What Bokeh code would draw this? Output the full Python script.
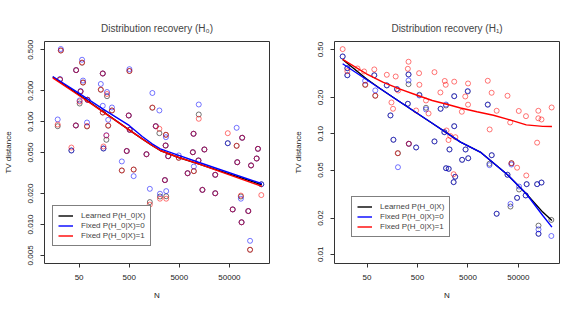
from bokeh.plotting import figure
from bokeh.layouts import row
from bokeh.models import Range1d, FixedTicker, PrintfTickFormatter, Legend, LegendItem
from bokeh.embed import file_html
from bokeh.resources import INLINE

FONT = "Liberation Sans"

# ---------------- H0 panel data ----------------
n_h0 = [21.6, 18.7, 20.8, 57.3, 43.6, 53.5, 51.2, 43.1, 71.9, 59.9,
        35.1, 73.5, 135.6, 148.4, 148.4, 180.4, 190.4, 226.2, 175, 153.2,
        489, 511.4, 504.5, 446.4, 355.9, 613.2, 1105, 1450, 1692, 2000,
        2700, 2664, 9605, 12210, 9305, 15812, 46300, 69620, 89730, 185300,
        174700, 1290, 2057, 2737, 2579, 2996, 4866, 7317, 9736, 12045,
        14440, 26030, 26030, 58070, 84590, 87320, 71530, 118850, 128960, 134940,
        216200]
tv_h0_learned = [0.492, 0.0903, 0.257, 0.374, 0.317, 0.1965, 0.150, 0.0918, 0.0897, 0.240,
                 0.0524, 0.1632, 0.204, 0.294, 0.1227, 0.1768, 0.0912, 0.1284, 0.0666, 0.0548,
                 0.1148, 0.0833, 0.311, 0.0518, 0.0335, 0.0342, 0.0482, 0.1364, 0.0903, 0.0772,
                 0.0745, 0.0586, 0.0762, 0.1174, 0.0504, 0.0536, 0.0617, 0.0582, 0.0697, 0.0544,
                 0.0438, 0.0165, 0.0187, 0.0188, 0.0270, 0.0461, 0.0445, 0.0315, 0.0330, 0.0419,
                 0.0217, 0.0304, 0.0201, 0.0140, 0.0187, 0.0105, 0.0403, 0.0135, 0.00567, 0.0375,
                 0.0246]
tv_h0_fixed0 = [0.509, 0.105, 0.260, 0.400, 0.317, 0.1987, 0.1606, 0.0918, 0.0981, 0.251,
                0.0524, 0.1632, 0.2325, 0.294, 0.1426, 0.1943, 0.1042, 0.1373, 0.0738, 0.0548,
                0.1148, 0.0833, 0.324, 0.0518, 0.0410, 0.0295, 0.0482, 0.190, 0.0903, 0.1284,
                0.0706, 0.0586, 0.0762, 0.1468, 0.0504, 0.0536, 0.0617, 0.0871, 0.0697, 0.0544,
                0.0438, 0.0222, 0.0199, 0.0211, 0.0270, 0.0461, 0.0469, 0.0315, 0.0366, 0.0419,
                0.0217, 0.0304, 0.0201, 0.0140, 0.0178, 0.0105, 0.0403, 0.0135, 0.00693, 0.0375,
                0.0246]
tv_h0_fixed1 = [0.492, 0.0938, 0.257, 0.376, 0.317, 0.1965, 0.157, 0.0918, 0.0907, 0.240,
                0.0560, 0.1632, 0.2055, 0.294, 0.1227, 0.1858, 0.0918, 0.1284, 0.0733, 0.0573,
                0.1148, 0.0833, 0.311, 0.0518, 0.0335, 0.0342, 0.0482, 0.1373, 0.0903, 0.0852,
                0.0745, 0.0586, 0.0762, 0.1066, 0.0504, 0.0536, 0.0772, 0.0582, 0.0697, 0.0544,
                0.0438, 0.0156, 0.0178, 0.0178, 0.0270, 0.0461, 0.0445, 0.0315, 0.0330, 0.0419,
                0.0217, 0.0304, 0.0201, 0.0140, 0.0191, 0.0105, 0.0403, 0.0135, 0.00567, 0.0375,
                0.0193]

fit_n_h0 = [14.9, 44.3, 148, 498, 910, 1431, 2085, 4866, 12045, 222200]
fit_h0_learned = [0.272, 0.190, 0.126, 0.0833, 0.068, 0.0586, 0.0524, 0.0448, 0.0389, 0.0243]
fit_h0_fixed0 = [0.275, 0.1956, 0.133, 0.0918, 0.0717, 0.0609, 0.0544, 0.0469, 0.0403, 0.0249]
fit_h0_fixed1 = [0.267, 0.1866, 0.125, 0.0833, 0.0681, 0.0586, 0.0524, 0.0448, 0.0389, 0.0235]

# ---------------- H1 panel data ----------------
n_h1 = [16.4, 20.3, 20.3, 45.7, 69.5, 72.7, 123.1, 145.5, 195.9, 166.5,
        204.9, 331.8, 331.8, 321.5, 336.3, 544.8, 469.5, 736.8, 1085, 1435,
        1839, 1703, 2153, 2673, 2673, 3832, 4487, 4956, 5068, 12370,
        14810, 1839, 2077, 2796, 2602, 13350, 30460, 36480, 73030, 117700,
        143600, 47170, 51620, 69810, 18560, 34860, 125400, 125400, 225300]
tv_h1_learned = [0.438, 0.350, 0.306, 0.255, 0.306, 0.207, 0.252, 0.142, 0.2345, 0.0892,
                 0.0690, 0.3105, 0.258, 0.1774, 0.0826, 0.2108, 0.0770, 0.1643, 0.0864, 0.1612,
                 0.1717, 0.1031, 0.0741, 0.2051, 0.1156, 0.0608, 0.0741, 0.2244, 0.0627, 0.1750,
                 0.0664, 0.0518, 0.0512, 0.0440, 0.0397, 0.0564, 0.0457, 0.0570, 0.0382, 0.0382,
                 0.0394, 0.0294, 0.0345, 0.0308, 0.0217, 0.0249, 0.0173, 0.0148, 0.0193]
tv_h1_fixed0 = [0.438, 0.350, 0.306, 0.275, 0.306, 0.229, 0.252, 0.142, 0.2345, 0.0892,
                0.0528, 0.3105, 0.277, 0.1774, 0.0826, 0.2079, 0.0770, 0.1591, 0.0864, 0.1612,
                0.1750, 0.1031, 0.0741, 0.2051, 0.1156, 0.0608, 0.0741, 0.2265, 0.0627, 0.1740,
                0.0664, 0.0518, 0.0512, 0.0440, 0.0397, 0.0549, 0.0457, 0.0556, 0.0382, 0.0382,
                0.0394, 0.0294, 0.0365, 0.0308, 0.0217, 0.0262, 0.0161, 0.0148, 0.0142]
n_h1_fixed1 = [16.4, 20.3, 32.3, 43.7, 46.3, 69.5, 72.7, 123.1, 152.2, 163.6,
               184.7, 206.7, 202.2, 321.5, 331.8, 336.3, 537.5, 544.8, 469.5, 736.8,
               828.3, 1085, 1422, 1734, 1814, 1881, 2058, 2232, 2673, 2821,
               3781, 4428, 5023, 5023, 12370, 14750, 13470, 18560, 30460, 34410,
               50920, 70760, 117700, 124300, 124300, 143600, 228400, 2602, 36480, 47170,
               71730]
tv_h1_fixed1 = [0.504, 0.331, 0.348, 0.329, 0.255, 0.342, 0.2067, 0.3087, 0.1819, 0.1612,
                0.2988, 0.2287, 0.0690, 0.346, 0.396, 0.0826, 0.3183, 0.255, 0.1561, 0.1889,
                0.1474, 0.3245, 0.2202, 0.2743, 0.255, 0.1065, 0.0888, 0.0959, 0.2707, 0.0937,
                0.1523, 0.2039, 0.2615, 0.1744, 0.2753, 0.2189, 0.1086, 0.1552, 0.2067, 0.1241,
                0.1546, 0.1400, 0.0844, 0.1552, 0.1345, 0.1314, 0.1653, 0.0462, 0.0570, 0.0523,
                0.0451]

fit_n_h1 = [16.4, 48.4, 88.6, 218.3, 978.6, 3566, 8783, 30460, 71730, 152200, 231500]
fit_h1_learned = [0.4136, 0.2861, 0.2385, 0.1853, 0.1222, 0.0853, 0.0706, 0.0457, 0.0318, 0.0224, 0.0191]
fit_h1_fixed0 = [0.381, 0.2821, 0.2385, 0.1853, 0.1222, 0.0853, 0.0706, 0.0457, 0.0318, 0.0210, 0.0168]
fit_n_h1_fixed1 = [16.4, 48.4, 102.8, 218.3, 461, 979, 2077, 3566, 7537, 15990, 33950, 71730, 152200, 231500]
fit_h1_fixed1 = [0.4136, 0.3147, 0.268, 0.2362, 0.2108, 0.1889, 0.1740, 0.1635, 0.1525, 0.1425, 0.1305, 0.1185, 0.1152, 0.1150]

x_ticks = [50, 500, 5000, 50000]
y_ticks_h0 = [0.005, 0.01, 0.02, 0.05, 0.1, 0.2, 0.5]
y_ticks_h1 = [0.01, 0.02, 0.05, 0.1, 0.2, 0.5]
legend_labels = ["Learned P(H_0|X)", "Fixed P(H_0|X)=0", "Fixed P(H_0|X)=1"]

COLORS = ["#000000", "#0000ff", "#ff0000"]


def panel(title, xr, yr, yticks, yfmt, pts, fits, legend_loc):
    p = figure(width=290, height=314,
               x_axis_type="log", y_axis_type="log",
               x_range=Range1d(*xr), y_range=Range1d(*yr),
               output_backend="svg", toolbar_location=None,
               min_border_left=41, min_border_right=21,
               min_border_top=41, min_border_bottom=51,
               background_fill_color="white", border_fill_color="white")
    p.title.text = title
    p.title.align = "center"
    p.title.text_font = FONT
    p.title.text_font_size = "10px"
    p.title.text_font_style = "normal"
    p.title.standoff = 16
    p.grid.visible = False
    p.outline_line_color = "#333333"
    p.outline_line_width = 1

    for ax in (p.xaxis[0], p.yaxis[0]):
        ax.axis_line_color = None
        ax.major_tick_out = 4
        ax.major_tick_in = 0
        ax.minor_tick_out = 0
        ax.minor_tick_in = 0
        ax.major_tick_line_color = "#333333"
        ax.major_label_text_font = FONT
        ax.major_label_text_font_size = "8px"
        ax.major_label_text_color = "#222222"
        ax.axis_label_text_font = FONT
        ax.axis_label_text_font_size = "8px"
        ax.axis_label_text_font_style = "normal"
        ax.axis_label_text_color = "#222222"

    p.xaxis.ticker = FixedTicker(ticks=x_ticks)
    p.xaxis.formatter = PrintfTickFormatter(format="%d")
    p.xaxis.major_label_standoff = 7
    p.xaxis.axis_label = "N"
    p.xaxis.axis_label_standoff = 8

    p.yaxis.ticker = FixedTicker(ticks=yticks)
    p.yaxis.formatter = PrintfTickFormatter(format=yfmt)
    p.yaxis.major_label_orientation = "vertical"
    p.yaxis.major_label_standoff = 7
    p.yaxis.axis_label = "TV distance"
    p.yaxis.axis_label_standoff = 13

    for (xs, ys), c in zip(pts, COLORS):
        p.scatter(xs, ys, marker="circle", size=5, fill_color=None,
                  line_color=c, line_alpha=0.6, line_width=0.9)

    lines = []
    for (xs, ys), c in zip(fits, COLORS):
        lines.append(p.line(xs, ys, line_color=c, line_width=1.4))

    legend = Legend(items=[LegendItem(label=l, renderers=[r]) for l, r in zip(legend_labels, lines)],
                    location=legend_loc, label_text_font=FONT, label_text_font_size="8px",
                    glyph_width=15, glyph_height=9, label_height=9, spacing=1, padding=5,
                    margin=0, label_standoff=8, border_line_color="black",
                    border_line_width=1, background_fill_alpha=1.0)
    p.add_layout(legend, "center")
    return p


p1 = panel("Distribution recovery (H\u2080)", (10.2, 315000), (0.00417, 0.602),
           y_ticks_h0, "%.3f",
           [(n_h0, tv_h0_learned), (n_h0, tv_h0_fixed0), (n_h0, tv_h0_fixed1)],
           [(fit_n_h0, fit_h0_learned), (fit_n_h0, fit_h0_fixed0), (fit_n_h0, fit_h0_fixed1)],
           (8, 17))
p2 = panel("Distribution recovery (H\u2081)", (11.3, 327000), (0.00839, 0.583),
           y_ticks_h1, "%.2f",
           [(n_h1, tv_h1_learned), (n_h1, tv_h1_fixed0), (n_h1_fixed1, tv_h1_fixed1)],
           [(fit_n_h1, fit_h1_learned), (fit_n_h1, fit_h1_fixed0), (fit_n_h1_fixed1, fit_h1_fixed1)],
           (17, 26))

layout = row(p1, p2, spacing=0)
open("out.html", "w").write(file_html(layout, INLINE))
